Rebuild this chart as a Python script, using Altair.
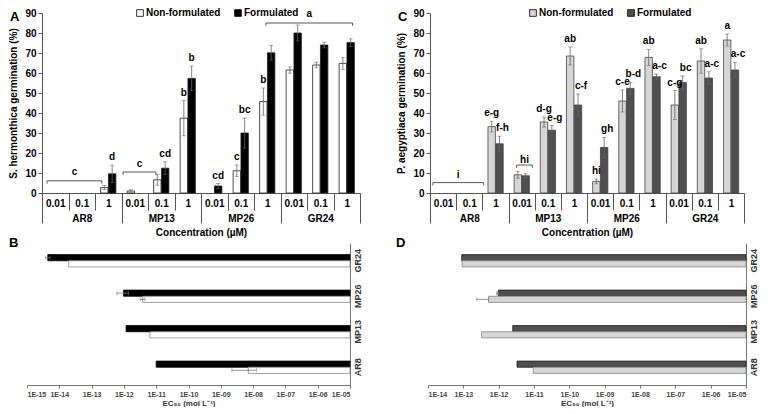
import altair as alt
import pandas as pd

# ---------------- data ----------------
groups = ["AR8", "MP13", "MP26", "GR24"]
concs = ["0.01", "0.1", "1"]
series = ["Non-formulated", "Formulated"]
y_ticks = [0, 10, 20, 30, 40, 50, 60, 70, 80, 90]

# Panel A: S. hermonthica germination (%)
a_non = [0, 0, 2.7, 1.0, 6.6, 37.4, 0, 11.1, 45.7, 61.5, 64.0, 64.8]
a_non_err = [0, 0, 1.0, 0.6, 2.7, 8.8, 0, 2.9, 6.8, 1.6, 1.4, 3.0]
a_form = [0, 0, 9.6, 0, 12.4, 57.3, 3.5, 30.0, 70.1, 80.0, 74.0, 75.2]
a_form_err = [0, 0, 4.3, 0, 3.2, 6.2, 1.2, 7.5, 3.7, 4.0, 1.4, 1.9]
a_non_lbl = ["", "", "", "", "", "b", "", "c", "b", "", "", ""]
a_form_lbl = ["", "", "d", "", "cd", "b", "cd", "bc", "", "", "", ""]
a_br_lbl = ["c", "c", "a"]
a_br_start = [0.19, 3.06, 8.45]
a_br_end = [2.26, 4.30, 11.72]
a_br_level = [6.1, 10.5, 85.0]
a_br_text = [10.5, 14.3, 89.4]

# Panel C: P. aegyptiaca germination (%)
c_non = [0, 0, 33.2, 9.1, 35.5, 68.5, 5.8, 46.0, 67.8, 44.0, 66.0, 76.5]
c_non_err = [0, 0, 2.7, 1.7, 2.5, 4.5, 1.2, 5.5, 4.0, 7.2, 6.1, 3.0]
c_form = [0, 0, 24.6, 8.6, 31.4, 44.0, 22.8, 52.3, 58.1, 55.3, 57.5, 61.5]
c_form_err = [0, 0, 3.8, 1.0, 2.3, 5.5, 5.0, 3.0, 1.4, 3.2, 3.1, 3.9]
c_non_lbl = ["", "", "e-g", "", "d-g", "ab", "hi", "c-e", "ab", "c-g", "ab", "a"]
c_form_lbl = ["", "", "f-h", "", "e-g", "c-f", "gh", "b-d", "a-c", "bc", "a-c", "a-c"]
c_br_lbl = ["i", "hi"]
c_br_start = [0.11, 3.31]
c_br_end = [2.05, 3.91]
c_br_level = [5.2, 14.0]
c_br_text = [9.0, 16.6]

# Panels B and D: EC50 (mol/L), order AR8, MP13, MP26, GR24
ec_order = ["GR24", "MP26", "MP13", "AR8"]
b_form = [1.0e-11, 1.17e-12, 9.8e-13, 4.4e-15]
b_form_lo = [1.0e-11, 1.17e-12, 6.1e-13, 3.7e-15]
b_form_hi = [1.0e-11, 1.17e-12, 1.4e-12, 5.2e-15]
b_non = [7.1e-9, 6.4e-12, 3.8e-12, 1.95e-14]
b_non_lo = [2.2e-9, 6.4e-12, 3.2e-12, 1.95e-14]
b_non_hi = [1.26e-8, 6.4e-12, 4.5e-12, 1.95e-14]
b_ticks = [1e-15, 1e-14, 1e-13, 1e-12, 1e-11, 1e-10, 1e-9, 1e-8, 1e-7, 1e-6, 1e-5]

d_form = [3.3e-12, 2.5e-12, 9.7e-13, 9.0e-14]
d_form_lo = [3.3e-12, 2.5e-12, 8.8e-13, 9.0e-14]
d_form_hi = [3.3e-12, 2.5e-12, 9.7e-13, 9.0e-14]
d_non = [9.5e-12, 3.3e-13, 5.2e-13, 9.2e-14]
d_non_lo = [9.5e-12, 3.3e-13, 2.4e-13, 9.2e-14]
d_non_hi = [9.5e-12, 3.3e-13, 5.2e-13, 9.2e-14]
d_ticks = [1e-14, 1e-13, 1e-12, 1e-11, 1e-10, 1e-9, 1e-8, 1e-7, 1e-6, 1e-5]

cells = [f"{g}|{c}" for g in groups for c in concs]
FONT = "Liberation Sans"


def bar_df(non, non_err, form, form_err, non_lbl, form_lbl):
    rows = []
    for i, cell in enumerate(cells):
        for s, v, e, l in ((series[0], non[i], non_err[i], non_lbl[i]),
                           (series[1], form[i], form_err[i], form_lbl[i])):
            rows.append({"cell": cell, "series": s, "value": v, "err": e,
                         "lo": max(v - e, 0), "hi": v + e, "lbl": l})
    return pd.DataFrame(rows)


def bar_panel(df, brdf, fill_range, stroke_color, ytitle, letter, legend_x, width, shift,
              form_dx):
    height = 180
    total_w = width + shift
    xr = [shift, total_w]
    ysc = alt.Scale(domain=[0, 90], nice=False)
    yax = alt.Axis(title=ytitle, values=y_ticks, tickSize=4, labelPadding=2, offset=-shift,
                   labelFontSize=10, labelFontWeight="bold", labelColor="black",
                   titleFontSize=10, titleFontWeight="bold", titleColor="black",
                   titleX=-29, titleY=height / 2, titleBaseline="middle",
                   domainColor="#555", tickColor="#555", grid=False)
    xenc = alt.X("cell:N", sort=cells,
                 scale=alt.Scale(domain=cells, range=xr, paddingInner=0, paddingOuter=0),
                 axis=alt.Axis(orient="bottom", title=None, tickBand="extent", tickSize=17,
                               tickColor="#555", domainColor="#555",
                               labelExpr="split(datum.label, '|')[1]", labelAngle=0,
                               labelPadding=-7, labelBaseline="middle",
                               labelFontSize=10, labelFontWeight="bold", labelColor="black"))
    xoff = alt.XOffset("series:N", sort=series,
                       scale=alt.Scale(domain=series, paddingInner=0.05, paddingOuter=0.72))
    base = alt.Chart(df)
    bars = base.transform_filter("datum.value > 0").mark_bar(
        stroke=stroke_color, strokeWidth=0.8).encode(
        x=xenc, xOffset=xoff,
        y=alt.Y("value:Q", scale=ysc, axis=yax),
        fill=alt.Fill("series:N", sort=series,
                      scale=alt.Scale(domain=series, range=fill_range),
                      legend=alt.Legend(orient="none", legendX=legend_x + shift, legendY=-5,
                                        direction="horizontal", title=None,
                                        symbolType="square", symbolSize=45,
                                        symbolStrokeColor="black", symbolStrokeWidth=0.8,
                                        labelFontSize=10, labelFontWeight="bold",
                                        labelColor="black", columnPadding=12,
                                        labelOffset=1, padding=0)))
    eb = base.transform_filter("datum.err > 0")
    err = eb.mark_rule(color="#666", strokeWidth=0.8).encode(
        x=xenc, xOffset=xoff, y=alt.Y("lo:Q", scale=ysc, axis=yax), y2="hi:Q")
    cap_hi = eb.mark_tick(color="#666", size=4, thickness=0.8).encode(
        x=xenc, xOffset=xoff, y=alt.Y("hi:Q", scale=ysc, axis=yax))
    cap_lo = eb.mark_tick(color="#666", size=4, thickness=0.8).encode(
        x=xenc, xOffset=xoff, y=alt.Y("lo:Q", scale=ysc, axis=yax))
    txt_non = base.transform_filter(
        f"datum.lbl != '' && datum.series == '{series[0]}'").mark_text(
        fontSize=10, fontWeight="bold", baseline="middle", dy=-8, fill="black").encode(
        x=xenc, xOffset=xoff, y=alt.Y("hi:Q", scale=ysc, axis=yax), text="lbl:N")
    txt_form = base.transform_filter(
        f"datum.lbl != '' && datum.series == '{series[1]}'").mark_text(
        fontSize=10, fontWeight="bold", baseline="middle", dy=-8, dx=form_dx,
        fill="black").encode(
        x=xenc, xOffset=xoff, y=alt.Y("hi:Q", scale=ysc, axis=yax), text="lbl:N")
    inner = alt.layer(bars, err, cap_hi, cap_lo, txt_non, txt_form)

    bx = alt.Scale(domain=[0, 12], range=xr, nice=False, zero=False)
    bb = alt.Chart(brdf).transform_calculate(
        mid="(datum.start + datum.end) / 2", drop="datum.level - 1.4")
    hline = bb.mark_rule(color="#555", strokeWidth=1).encode(
        x=alt.X("start:Q", scale=bx, axis=None), x2="end:Q",
        y=alt.Y("level:Q", scale=ysc, axis=yax))
    lend = bb.mark_rule(color="#555", strokeWidth=1).encode(
        x=alt.X("start:Q", scale=bx, axis=None),
        y=alt.Y("level:Q", scale=ysc, axis=yax), y2="drop:Q")
    rend = bb.mark_rule(color="#555", strokeWidth=1).encode(
        x=alt.X("end:Q", scale=bx, axis=None),
        y=alt.Y("level:Q", scale=ysc, axis=yax), y2="drop:Q")
    btxt = bb.mark_text(fontSize=10, fontWeight="bold", baseline="middle", fill="black").encode(
        x=alt.X("mid:Q", scale=bx, axis=None),
        y=alt.Y("ty:Q", scale=ysc, axis=yax), text="lbl:N")
    brackets = alt.layer(hline, lend, rend, btxt)

    grp = alt.Chart(pd.DataFrame({"group": groups})).mark_bar(opacity=0).encode(
        x=alt.X("group:N", sort=groups,
                scale=alt.Scale(domain=groups, range=xr, paddingInner=0, paddingOuter=0),
                axis=alt.Axis(orient="bottom", title="Concentration (µM)", tickBand="extent",
                              tickSize=30, tickColor="#555", domain=False, labelAngle=0,
                              labelPadding=-5, labelBaseline="middle", labelFontSize=10,
                              labelFontWeight="bold", labelColor="black",
                              titleFontSize=10, titleFontWeight="bold", titleColor="black",
                              titleX=shift + width / 2, titleY=39, titleBaseline="middle")),
        y=alt.value(0), y2=alt.value(1))

    lt = alt.Chart(pd.DataFrame({"t": [letter]})).mark_text(
        fontSize=13, fontWeight="bold", align="left", baseline="middle", fill="black").encode(
        text="t:N", x=alt.value(shift - 32), y=alt.value(4))

    return alt.layer(inner, brackets, grp, lt).resolve_scale(x="independent").properties(
        width=total_w, height=height)


def ec_df(form, form_lo, form_hi, non, non_lo, non_hi):
    rows = []
    for i, g in enumerate(groups):
        rows.append({"compound": g, "series": series[1], "ec": form[i],
                     "lo": form_lo[i], "hi": form_hi[i]})
        rows.append({"compound": g, "series": series[0], "ec": non[i],
                     "lo": non_lo[i], "hi": non_hi[i]})
    return pd.DataFrame(rows)


def ec_panel(df, ticks, fill_range, stroke_range, letter, letter_x, width):
    height = 142
    xs = alt.Scale(type="log", domain=[ticks[0], ticks[-1]], nice=False)
    e = "round(log(datum.value) / LN10)"
    xax = alt.Axis(title="EC₅₀ (mol L⁻¹)", values=ticks,
                   labelExpr=f"'1E' + ({e} < 0 ? '-' : '+') + (abs({e}) < 10 ? '0' : '') + abs({e})",
                   tickSize=3, tickColor="#777", domainColor="#777", grid=False,
                   labelFontSize=7, labelFontWeight="bold", labelColor="#444", labelPadding=2,
                   titleFontSize=8, titleFontWeight="bold", titleColor="#333", titlePadding=2)
    yenc = alt.Y("compound:N", sort=ec_order,
                 scale=alt.Scale(domain=ec_order, paddingInner=0.653, paddingOuter=0.327),
                 axis=alt.Axis(orient="right", title=None, ticks=False, labelAngle=270,
                               labelAlign="center", labelBaseline="top", labelPadding=3,
                               labelFontSize=9, labelFontWeight="bold", labelColor="#333",
                               domainColor="#777"))
    yoff = alt.YOffset("series:N", sort=[series[1], series[0]],
                       scale=alt.Scale(domain=[series[1], series[0]],
                                       paddingInner=0, paddingOuter=0))
    base = alt.Chart(df)
    bars = base.mark_bar(strokeWidth=0.8).encode(
        x=alt.X("ec:Q", scale=xs, axis=xax), x2=alt.datum(1e-5),
        y=yenc, yOffset=yoff,
        fill=alt.Fill("series:N", scale=alt.Scale(domain=series, range=fill_range), legend=None),
        stroke=alt.Stroke("series:N", scale=alt.Scale(domain=series, range=stroke_range),
                          legend=None))
    eb = base.transform_filter("datum.hi > datum.lo")
    err = eb.mark_rule(color="#777", strokeWidth=0.8).encode(
        x=alt.X("lo:Q", scale=xs, axis=xax), x2="hi:Q", y=yenc, yOffset=yoff)
    c1 = eb.mark_tick(color="#777", size=4, thickness=0.8).encode(
        x=alt.X("lo:Q", scale=xs, axis=xax), y=yenc, yOffset=yoff)
    c2 = eb.mark_tick(color="#777", size=4, thickness=0.8).encode(
        x=alt.X("hi:Q", scale=xs, axis=xax), y=yenc, yOffset=yoff)
    lt = alt.Chart(pd.DataFrame({"t": [letter]})).mark_text(
        fontSize=13, fontWeight="bold", align="left", baseline="middle", fill="black").encode(
        text="t:N", x=alt.value(letter_x), y=alt.value(0))
    return alt.layer(bars, err, c1, c2, lt).properties(width=width, height=height)


dfA = bar_df(a_non, a_non_err, a_form, a_form_err, a_non_lbl, a_form_lbl)
brA = pd.DataFrame({"lbl": a_br_lbl, "start": a_br_start, "end": a_br_end,
                    "level": a_br_level, "ty": a_br_text})
dfC = bar_df(c_non, c_non_err, c_form, c_form_err, c_non_lbl, c_form_lbl)
brC = pd.DataFrame({"lbl": c_br_lbl, "start": c_br_start, "end": c_br_end,
                    "level": c_br_level, "ty": c_br_text})

panelA = bar_panel(dfA, brA, ["white", "black"], "#222",
                   "S. hermonthica germination (%)", "A", 93, 318, 15, 0)
panelC = bar_panel(dfC, brC, ["#d6d6d6", "#4f4f4f"], "#444",
                   "P. aegyptiaca germination (%)", "C", 98, 314, 2, 3)

dfB = ec_df(b_form, b_form_lo, b_form_hi, b_non, b_non_lo, b_non_hi)
dfD = ec_df(d_form, d_form_lo, d_form_hi, d_non, d_non_lo, d_non_hi)
panelB = ec_panel(dfB, b_ticks, ["white", "black"], ["#888", "black"], "B", -18, 323)
panelD = ec_panel(dfD, d_ticks, ["#d6d6d6", "#4f4f4f"], ["#888", "#222"], "D", -32, 318)

chart = alt.concat(
    panelA, panelC, panelB, panelD,
    columns=2,
    bounds="flush",
    spacing={"row": 50, "column": 68},
).resolve_scale(fill="independent", stroke="independent").properties(
    padding=0
).configure(font=FONT).configure_view(stroke=None)

chart.save("out.html", embed_options={"renderer": "svg", "actions": False})
